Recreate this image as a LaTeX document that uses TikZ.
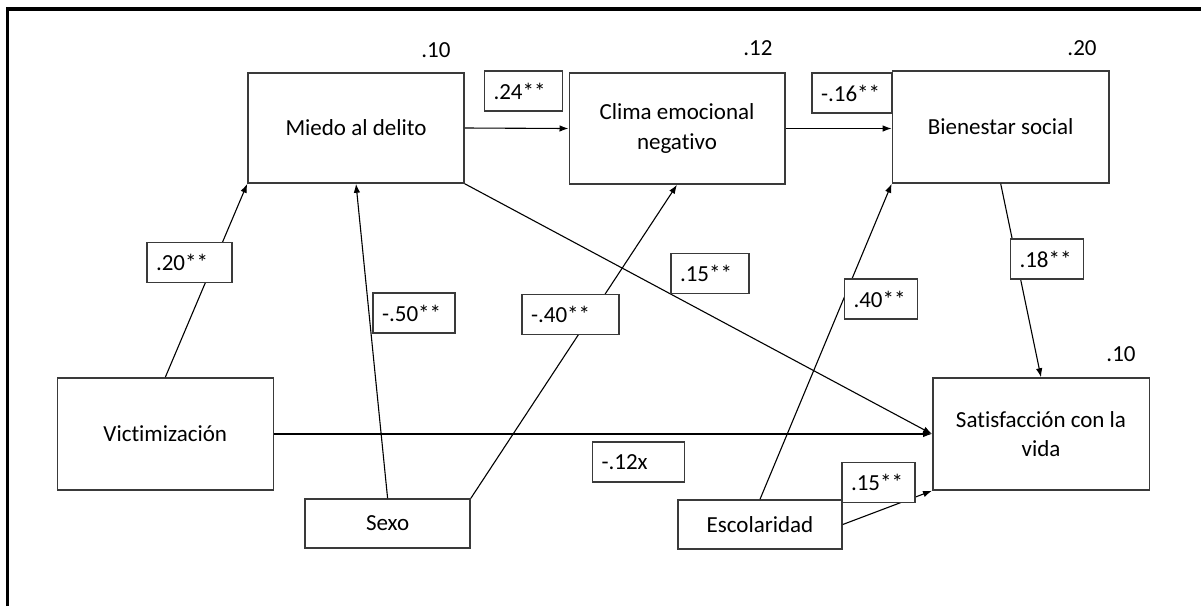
\documentclass[tikz,border=0pt]{standalone}
\usepackage{fontspec}
\setmainfont{Carlito}[Ligatures=NoCommon]
\usetikzlibrary{arrows.meta}
\definecolor{boxgray}{HTML}{3A3A3A}
\begin{document}
\begin{tikzpicture}[x=1pt,y=-1pt,
  every node/.style={font=\fontsize{23}{29.5}\selectfont},
  bigbox/.style={draw=boxgray, line width=1.5pt, fill=white, inner sep=0pt, align=center},
  lbl/.style={draw=boxgray, line width=1.5pt, fill=white, inner xsep=9pt, inner ysep=0pt,
              minimum height=40pt, text width=#1, align=left},
  rsq/.style={inner sep=0pt},
  conn/.style={line width=1.1pt, draw=black},
  arr/.style={conn, -{Latex[length=9pt,width=6.5pt]}}]
\useasboundingbox (0,0) rectangle (1201,606);
% frame (left and top only)
\draw[line width=3.2pt] (7.7,606) -- (7.7,9) -- (1201,9);

% main boxes
\node[bigbox, minimum width=216pt, minimum height=110pt] (miedo) at (356,128) {Miedo al delito};
\node[bigbox, minimum width=215.5pt, minimum height=111pt] (clima) at (677,128.5) {Clima emocional\\negativo};
\node[bigbox, minimum width=216.6pt, minimum height=112pt] (bien) at (1000.7,127) {Bienestar social};
\node[bigbox, minimum width=216pt, minimum height=112pt] (victim) at (165.3,434) {Victimización};
\node[bigbox, minimum width=216.5pt, minimum height=112pt] (satisf) at (1041,434) {Satisfacción con la\\vida};
\node[bigbox, minimum width=165pt, minimum height=49pt] (sexo) at (387.6,523.5) {Sexo};
\node[bigbox, minimum width=164pt, minimum height=49pt] (escol) at (760,524.5) {Escolaridad};

% R-squared values
\node[rsq] (r1) at (436,50) {.10};
\node[rsq] (r2) at (758,48) {.12};
\node[rsq] (r3) at (1082,48) {.20};
\node[rsq] (r4) at (1121,354) {.10};

% connectors
\draw[arr] (miedo.east) -- (clima.west);
\draw[arr] (clima.east) -- (clima.east -| bien.west);
\draw[arr] (victim.north) -- (miedo.south west);
\draw[arr] (sexo.north) -- (miedo.south);
\draw[arr] (sexo.north east) -- (clima.south);
\draw[arr] (miedo.south east) -- (satisf.west);
\draw[arr] (victim.east) -- (satisf.west);
\draw[arr] (bien.south) -- (satisf.north);
\draw[arr] (escol.north) -- (bien.south west);
\draw[arr] (escol.east) -- (satisf.south west);

% coefficient labels
\node[lbl=60pt] (c24) at (523.5,91) {.24**};
\node[lbl=62pt] (c16) at (852,93) {-.16**};
\node[lbl=67pt] (c20) at (189.5,262.5) {.20**};
\node[lbl=64pt] (c50) at (414,313) {-.50**};
\node[lbl=79pt] (c40a) at (570.5,314.5) {-.40**};
\node[lbl=60pt] (c15a) at (710,273.5) {.15**};
\node[lbl=55pt] (c40b) at (881,299) {.40**};
\node[lbl=55pt] (c18) at (1047,259) {.18**};
\node[lbl=74pt] (c12) at (638.5,462) {-.12x};
\node[lbl=55pt] (c15b) at (878.5,482.5) {.15**};
\end{tikzpicture}
\end{document}
